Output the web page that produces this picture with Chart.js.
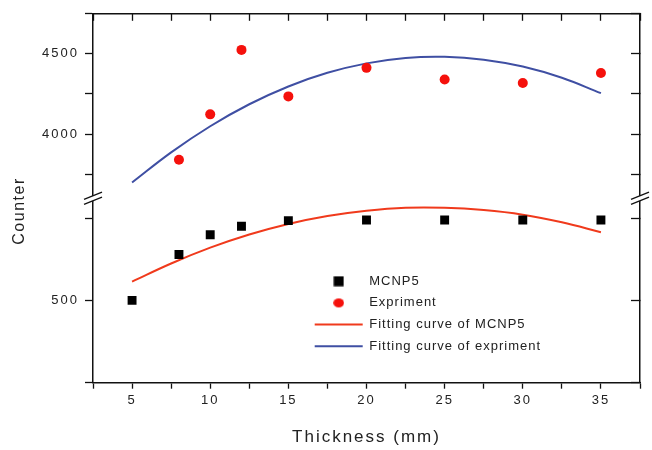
<!DOCTYPE html>
<html>
<head>
<meta charset="utf-8">
<title>Counter vs thickness</title>
<script src="https://cdn.jsdelivr.net/npm/chart.js@4.4.1/dist/chart.umd.min.js"></script>
<style>
    html, body { margin: 0; padding: 0; background: #fff; }
    #wrap { width: 652px; height: 450px; }
</style>
</head>
<body>
<div id="wrap"><canvas id="chart" width="652" height="450"></canvas></div>
<script>
'use strict';

// ── Data ──────────────────────────────────────────────────────────────────────

const THICKNESS_MCNP = [5, 8, 10, 12, 15, 20, 25, 30, 35];
const COUNTS_MCNP = [500, 639, 699, 725, 742, 744, 744, 744, 744];

const THICKNESS_EXP = [8, 10, 12, 15, 20, 25, 30, 35];
const COUNTS_EXP = [3840, 4123, 4525, 4235, 4413, 4340, 4319, 4381];

const THICKNESS_FIT = [5, 7.5, 10, 12.5, 15, 17.5, 20, 22.5, 25, 27.5, 30, 32.5, 35];
const FIT_MCNP = [557, 612, 660, 700, 732, 756, 772, 781, 781, 774, 760, 737, 707];
const FIT_EXP = [3698, 3886, 4049, 4186, 4297, 4382, 4441, 4475, 4482, 4464, 4421, 4351, 4255];

// tick positions and which of them carry a label
const X_TICKS = [2.5, 5, 7.5, 10, 12.5, 15, 17.5, 20, 22.5, 25, 27.5, 30, 32.5, 35, 37.5];
const X_TICK_LABELS = [5, 10, 15, 20, 25, 30, 35];
const Y_TICKS_LOW = [250, 500, 750];
const Y_TICKS_HIGH = [3750, 4000, 4250, 4500, 4750];
const Y_TICK_LABELS = [500, 4000, 4500];

const TEXT = '#222';
const AXIS = '#111';
const RED_DOT = '#f5110c';
const RED_LINE = '#f03a1c';
const BLUE_LINE = '#3f4fa3';

const toPoints = (xs, ys) => xs.map((x, i) => ({ x, y: ys[i] }));
const fixedTicks = values => scale => { scale.ticks = values.map(value => ({ value })); };

// ── Legend icons ──────────────────────────────────────────────────────────────

function makeIcon(draw) {
    const c = document.createElement('canvas');
    c.width = 11;
    c.height = 11;
    draw(c.getContext('2d'));
    return c;
}

const legendIcons = {
    'MCNP5': makeIcon(g => { g.fillStyle = '#000'; g.fillRect(0.5, 0.5, 10, 10); }),
    'Expriment': makeIcon(g => {
        g.fillStyle = RED_DOT;
        g.beginPath();
        g.ellipse(5.5, 5.5, 5.3, 4.6, 0, 0, Math.PI * 2);
        g.fill();
    }),
};

// ── Plugins ───────────────────────────────────────────────────────────────────

const textSpacing = {
    id: 'textSpacing',
    beforeLayout(chart) { chart.ctx.letterSpacing = '2px'; },
    beforeDraw(chart) { chart.ctx.letterSpacing = '2px'; },
};

const legendPlacement = {
    id: 'legendPlacement',
    afterLayout(chart) {
        const lg = chart.legend;
        lg.left = 306;
        lg.top = 266;
        lg.right = lg.left + 250;
        lg.bottom = lg.top + 110;
        if (!lg._spaced) {
            const draw = lg.draw.bind(lg);
            lg.draw = (area) => {
                const prev = chart.ctx.letterSpacing;
                chart.ctx.letterSpacing = '1px';
                draw(area);
                chart.ctx.letterSpacing = prev;
            };
            lg._spaced = true;
        }
    },
};

const axisExtras = {
    id: 'axisExtras',
    afterDraw(chart) {
        const { ctx, chartArea } = chart;
        const yb = chart.scales.yHigh.bottom;
        ctx.save();
        [chartArea.left, chartArea.right].forEach(x => {
            // white gap between the two slashes
            ctx.fillStyle = '#fff';
            ctx.beginPath();
            ctx.moveTo(x - 2.5, yb - 2.5 + 1);
            ctx.lineTo(x + 2.5, yb - 2.5 - 1);
            ctx.lineTo(x + 2.5, yb + 2.5 - 1);
            ctx.lineTo(x - 2.5, yb + 2.5 + 1);
            ctx.closePath();
            ctx.fill();
            ctx.strokeStyle = AXIS;
            ctx.lineWidth = 1.3;
            [-2.5, 2.5].forEach(d => {
                ctx.beginPath();
                ctx.moveTo(x - 9, yb + d + 3.6);
                ctx.lineTo(x + 9, yb + d - 3.6);
                ctx.stroke();
            });
        });

        // y axis title
        ctx.translate(20, 211);
        ctx.rotate(-Math.PI / 2);
        ctx.letterSpacing = '1.5px';
        ctx.font = '16px "Liberation Sans", Arial, sans-serif';
        ctx.fillStyle = TEXT;
        ctx.textAlign = 'center';
        ctx.textBaseline = 'middle';
        ctx.fillText('Counter', 0, 0);
        ctx.restore();
    },
};

// ── Scales ────────────────────────────────────────────────────────────────────

const axisBorder = { color: AXIS, width: 1.5 };

function leftScale(min, max, ticks, weight) {
    return {
        type: 'linear', position: 'left', stack: 'left', weight,
        min, max,
        afterBuildTicks: fixedTicks(ticks),
        afterFit: s => { s.width = 93; },
        ticks: {
            autoSkip: false, padding: 6,
            color: TEXT, font: { size: 13 },
            callback: v => Y_TICK_LABELS.includes(v) ? String(v) : '',
        },
        grid: { drawOnChartArea: false, tickLength: 8, color: AXIS, tickWidth: 1.3 },
        border: axisBorder,
    };
}

function rightScale(min, max, ticks, weight) {
    return {
        type: 'linear', position: 'right', stack: 'right', weight,
        min, max,
        afterBuildTicks: fixedTicks(ticks),
        afterFit: s => { s.width = 12; },
        ticks: { display: false, autoSkip: false },
        grid: { drawOnChartArea: false, tickLength: -9, color: AXIS, tickWidth: 1.3 },
        border: axisBorder,
    };
}

// ── Chart ─────────────────────────────────────────────────────────────────────

Chart.defaults.font.family = '"Liberation Sans", Arial, sans-serif';
Chart.defaults.color = TEXT;

new Chart(document.getElementById('chart').getContext('2d'), {
    type: 'scatter',
    data: {
        datasets: [
            {
                label: 'MCNP5',
                data: toPoints(THICKNESS_MCNP, COUNTS_MCNP),
                yAxisID: 'yLow',
                pointStyle: 'rect',
                pointRadius: 6.3,
                backgroundColor: '#000',
                borderWidth: 0,
            },
            {
                label: 'Expriment',
                data: toPoints(THICKNESS_EXP, COUNTS_EXP),
                yAxisID: 'yHigh',
                pointStyle: 'circle',
                pointRadius: 5,
                backgroundColor: RED_DOT,
                borderWidth: 0,
            },
            {
                label: 'Fitting curve of MCNP5',
                data: toPoints(THICKNESS_FIT, FIT_MCNP),
                yAxisID: 'yLow',
                showLine: true,
                pointRadius: 0,
                pointStyle: 'line',
                borderColor: RED_LINE,
                backgroundColor: RED_LINE,
                borderWidth: 2,
                tension: 0.4,
            },
            {
                label: 'Fitting curve of expriment',
                data: toPoints(THICKNESS_FIT, FIT_EXP),
                yAxisID: 'yHigh',
                showLine: true,
                pointRadius: 0,
                pointStyle: 'line',
                borderColor: BLUE_LINE,
                backgroundColor: BLUE_LINE,
                borderWidth: 2,
                tension: 0.4,
            },
        ],
    },
    options: {
        responsive: false,
        animation: false,
        events: [],
        layout: { padding: 0 },
        plugins: {
            tooltip: { enabled: false },
            legend: {
                position: 'chartArea',
                align: 'start',
                labels: {
                    usePointStyle: true,
                    pointStyleWidth: 48,
                    padding: 8.7,
                    color: TEXT,
                    font: { size: 13 },
                    generateLabels(chart) {
                        const items = Chart.defaults.plugins.legend.labels.generateLabels(chart);
                        items.forEach(item => {
                            if (legendIcons[item.text]) item.pointStyle = legendIcons[item.text];
                        });
                        return items;
                    },
                },
            },
        },
        scales: {
            x: {
                type: 'linear', position: 'bottom',
                min: 2.5, max: 37.5,
                afterBuildTicks: fixedTicks(X_TICKS),
                afterFit: s => { s.height = 67.3; },
                ticks: {
                    autoSkip: false, maxRotation: 0, padding: 4,
                    color: TEXT, font: { size: 13 },
                    callback: v => X_TICK_LABELS.includes(v) ? String(v) : '',
                },
                grid: { drawOnChartArea: false, tickLength: 6, color: AXIS, tickWidth: 1.3 },
                border: axisBorder,
                title: {
                    display: true, text: 'Thickness (mm)', color: TEXT,
                    font: { size: 17 }, padding: { top: 0, bottom: 2 },
                },
            },
            x2: {
                type: 'linear', position: 'top',
                min: 2.5, max: 37.5,
                afterBuildTicks: fixedTicks(X_TICKS),
                afterFit: s => { s.height = 9.5; },
                ticks: { display: false, autoSkip: false },
                grid: { drawOnChartArea: false, tickLength: -7, color: AXIS, tickWidth: 1.3 },
                border: axisBorder,
            },
            yLow: leftScale(250, 810, Y_TICKS_LOW, 1),
            yHigh: leftScale(3600, 4750, Y_TICKS_HIGH, 2),
            yHighR: rightScale(3600, 4750, Y_TICKS_HIGH, 1),
            yLowR: rightScale(250, 810, Y_TICKS_LOW, 2),
        },
    },
    plugins: [textSpacing, legendPlacement, axisExtras],
});
</script>
</body>
</html>
